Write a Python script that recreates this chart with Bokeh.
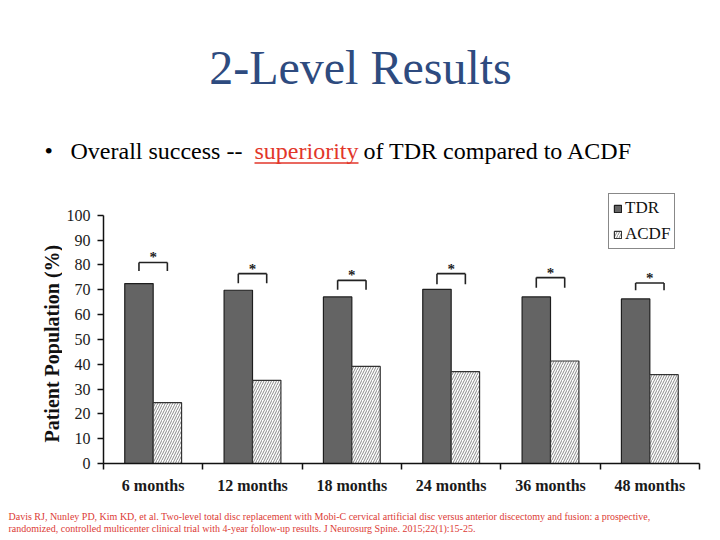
import numpy as np
from bokeh.plotting import figure
from bokeh.layouts import column, row
from bokeh.models import Range1d, FixedTicker, ColumnDataSource
from bokeh.transform import dodge
from bokeh.core.properties import value
from bokeh.embed import file_html
from bokeh.resources import INLINE

# ---- data ----
months = ["6 months", "12 months", "18 months", "24 months", "36 months", "48 months"]
tdr = [72.5, 69.8, 67.1, 70.2, 67.1, 66.3]
acdf = [24.5, 33.5, 39.1, 37.0, 41.3, 35.8]
bracket_top = [81.0, 76.5, 73.8, 76.5, 74.9, 72.7]
bracket_leg = [77.6, 72.6, 70.0, 72.2, 70.8, 69.8]
stars = ["*"] * 6
y_ticks = list(range(0, 101, 10))
series_names = ["TDR", "ACDF"]
y_label = "Patient Population (%)"

title_text = "2-Level Results"
bullet_parts = ["Overall success  --", "superiority", "of TDR compared to ACDF"]
citation = [
    "Davis RJ, Nunley PD, Kim KD, et al. Two-level total disc replacement with Mobi-C cervical artificial disc versus anterior discectomy and fusion: a prospective,",
    "randomized, controlled multicenter clinical trial with 4-year follow-up results. J Neurosurg Spine. 2015;22(1):15-25.",
]

SERIF = "Liberation Serif"
TITLE_BLUE = "#2E4B7F"
RED = "#E2362A"
CITE_RED = "#DC3B35"


def blank_fig(w, h, x0, x1, top, bottom):
    # page-pixel coordinates: x grows right, y given as -page_y
    f = figure(width=w, height=h, output_backend="svg", toolbar_location=None,
               x_range=Range1d(x0, x1), y_range=Range1d(-bottom, -top), title=None,
               x_axis_location=None, y_axis_location=None,
               min_border=0, min_border_left=0, min_border_right=0,
               min_border_top=0, min_border_bottom=0)
    f.outline_line_color = None
    f.grid.visible = False
    return f


def txt(f, x, y, t, size, color, **kw):
    d = dict(text_font=value(SERIF), text_baseline="alphabetic", text_align="left",
             text_font_size=size, text_color=color)
    d.update(kw)
    f.text(x=[x], y=[-y], text=[t], **d)


# ---- header (page y 0..190) ----
head = blank_fig(720, 190, 0, 720, 0, 190)
txt(head, 360, 67, title_text, "48px", TITLE_BLUE, text_align="center")
txt(head, 44, 150, "\u2022", "24px", "black")
txt(head, 70, 150, bullet_parts[0], "24px", "black")
txt(head, 254, 150, bullet_parts[1], "24px", RED)
txt(head, 363, 150, bullet_parts[2], "24px", "black")
head.segment(x0=[254], y0=[-162.5], x1=[358], y1=[-162.5], line_color=RED, line_width=1.5)

# ---- y-axis title strip (page x 0..62, y 190..502) ----
ylab = blank_fig(62, 312, 0, 62, 190, 502)
txt(ylab, 51, 365, y_label, "20px", "#111111", text_align="center",
    text_baseline="middle", angle=np.pi / 2, text_font_style="bold")

# ---- chart (page x 62..720, y 190..502) ----
xc = np.arange(len(months)) + 0.5
src = ColumnDataSource(dict(xc=xc, tdr=tdr, acdf=acdf, btop=bracket_top,
                            bleg=bracket_leg, star=stars))

p = figure(width=658, height=312, output_backend="svg", toolbar_location=None,
           x_range=Range1d(0, len(months)), y_range=Range1d(0, 110),
           min_border_left=41, min_border_right=21, min_border_top=0,
           min_border_bottom=39, title=None)
p.outline_line_color = None
p.grid.visible = False

off = 0.143
bw = 0.286
p.vbar(x=dodge("xc", -off), top="tdr", bottom=0, width=bw, source=src,
       fill_color="#646464", line_color="#1e1e1e", line_width=1.2,
       legend_label=series_names[0])
p.vbar(x=dodge("xc", off), top="acdf", bottom=0, width=bw, source=src,
       fill_color="white", hatch_pattern="/", hatch_color="#8a8a8a", hatch_scale=5,
       hatch_weight=1, line_color="#333333", line_width=1.2,
       legend_label=series_names[1])

# significance brackets
bk = dict(source=src, line_color="#222222", line_width=1.6)
p.segment(x0=dodge("xc", -off), y0="btop", x1=dodge("xc", off), y1="btop", **bk)
p.segment(x0=dodge("xc", -off), y0="bleg", x1=dodge("xc", -off), y1="btop", **bk)
p.segment(x0=dodge("xc", off), y0="bleg", x1=dodge("xc", off), y1="btop", **bk)
p.text(x="xc", y="btop", text="star", source=src, text_align="center",
       text_baseline="alphabetic", text_font=value(SERIF), text_font_size="15px",
       text_font_style="bold", y_offset=-5, text_color="#222222")

# x axis
xa = p.xaxis[0]
xa.ticker = FixedTicker(ticks=list(xc), minor_ticks=list(range(len(months) + 1)))
xa.major_label_overrides = {float(c): m for c, m in zip(xc, months)}
xa.major_tick_line_color = None
xa.minor_tick_in = 0
xa.minor_tick_out = 6
xa.minor_tick_line_color = "#111111"
xa.minor_tick_line_width = 1.5
xa.axis_line_width = 1.5
xa.axis_line_color = "#111111"
xa.major_label_text_font = SERIF
xa.major_label_text_font_style = "bold"
xa.major_label_text_font_size = "16px"
xa.major_label_text_color = "#1a1a1a"
xa.major_label_standoff = 7

# y axis
ya = p.yaxis[0]
ya.ticker = FixedTicker(ticks=y_ticks)
ya.bounds = (0, 100)
ya.major_tick_in = 0
ya.major_tick_out = 6
ya.minor_tick_line_color = None
ya.major_tick_line_width = 1.5
ya.axis_line_width = 1.5
ya.axis_line_color = "#111111"
ya.major_tick_line_color = "#111111"
ya.major_label_text_font = SERIF
ya.major_label_text_font_size = "16px"
ya.major_label_text_color = "#1a1a1a"
ya.major_label_standoff = 7

# legend
leg = p.legend[0]
leg.location = (505, 214)
leg.border_line_color = "#111111"
leg.border_line_width = 1.5
leg.padding = 4
leg.spacing = 6
leg.margin = 0
leg.label_height = 17
leg.glyph_height = 9
leg.glyph_width = 9
leg.label_standoff = 3
leg.label_text_font = SERIF
leg.label_text_font_size = "17px"
leg.label_text_color = "#111111"

# ---- footer (page y 502..540) ----
foot = blank_fig(720, 38, 0, 720, 502, 540)
txt(foot, 8, 515.5, citation[0], "10px", CITE_RED)
txt(foot, 8, 527.5, citation[1], "10px", CITE_RED)

layout = column(head, row(ylab, p, spacing=0), foot, spacing=0)
open("out.html", "w").write(file_html(layout, INLINE))
